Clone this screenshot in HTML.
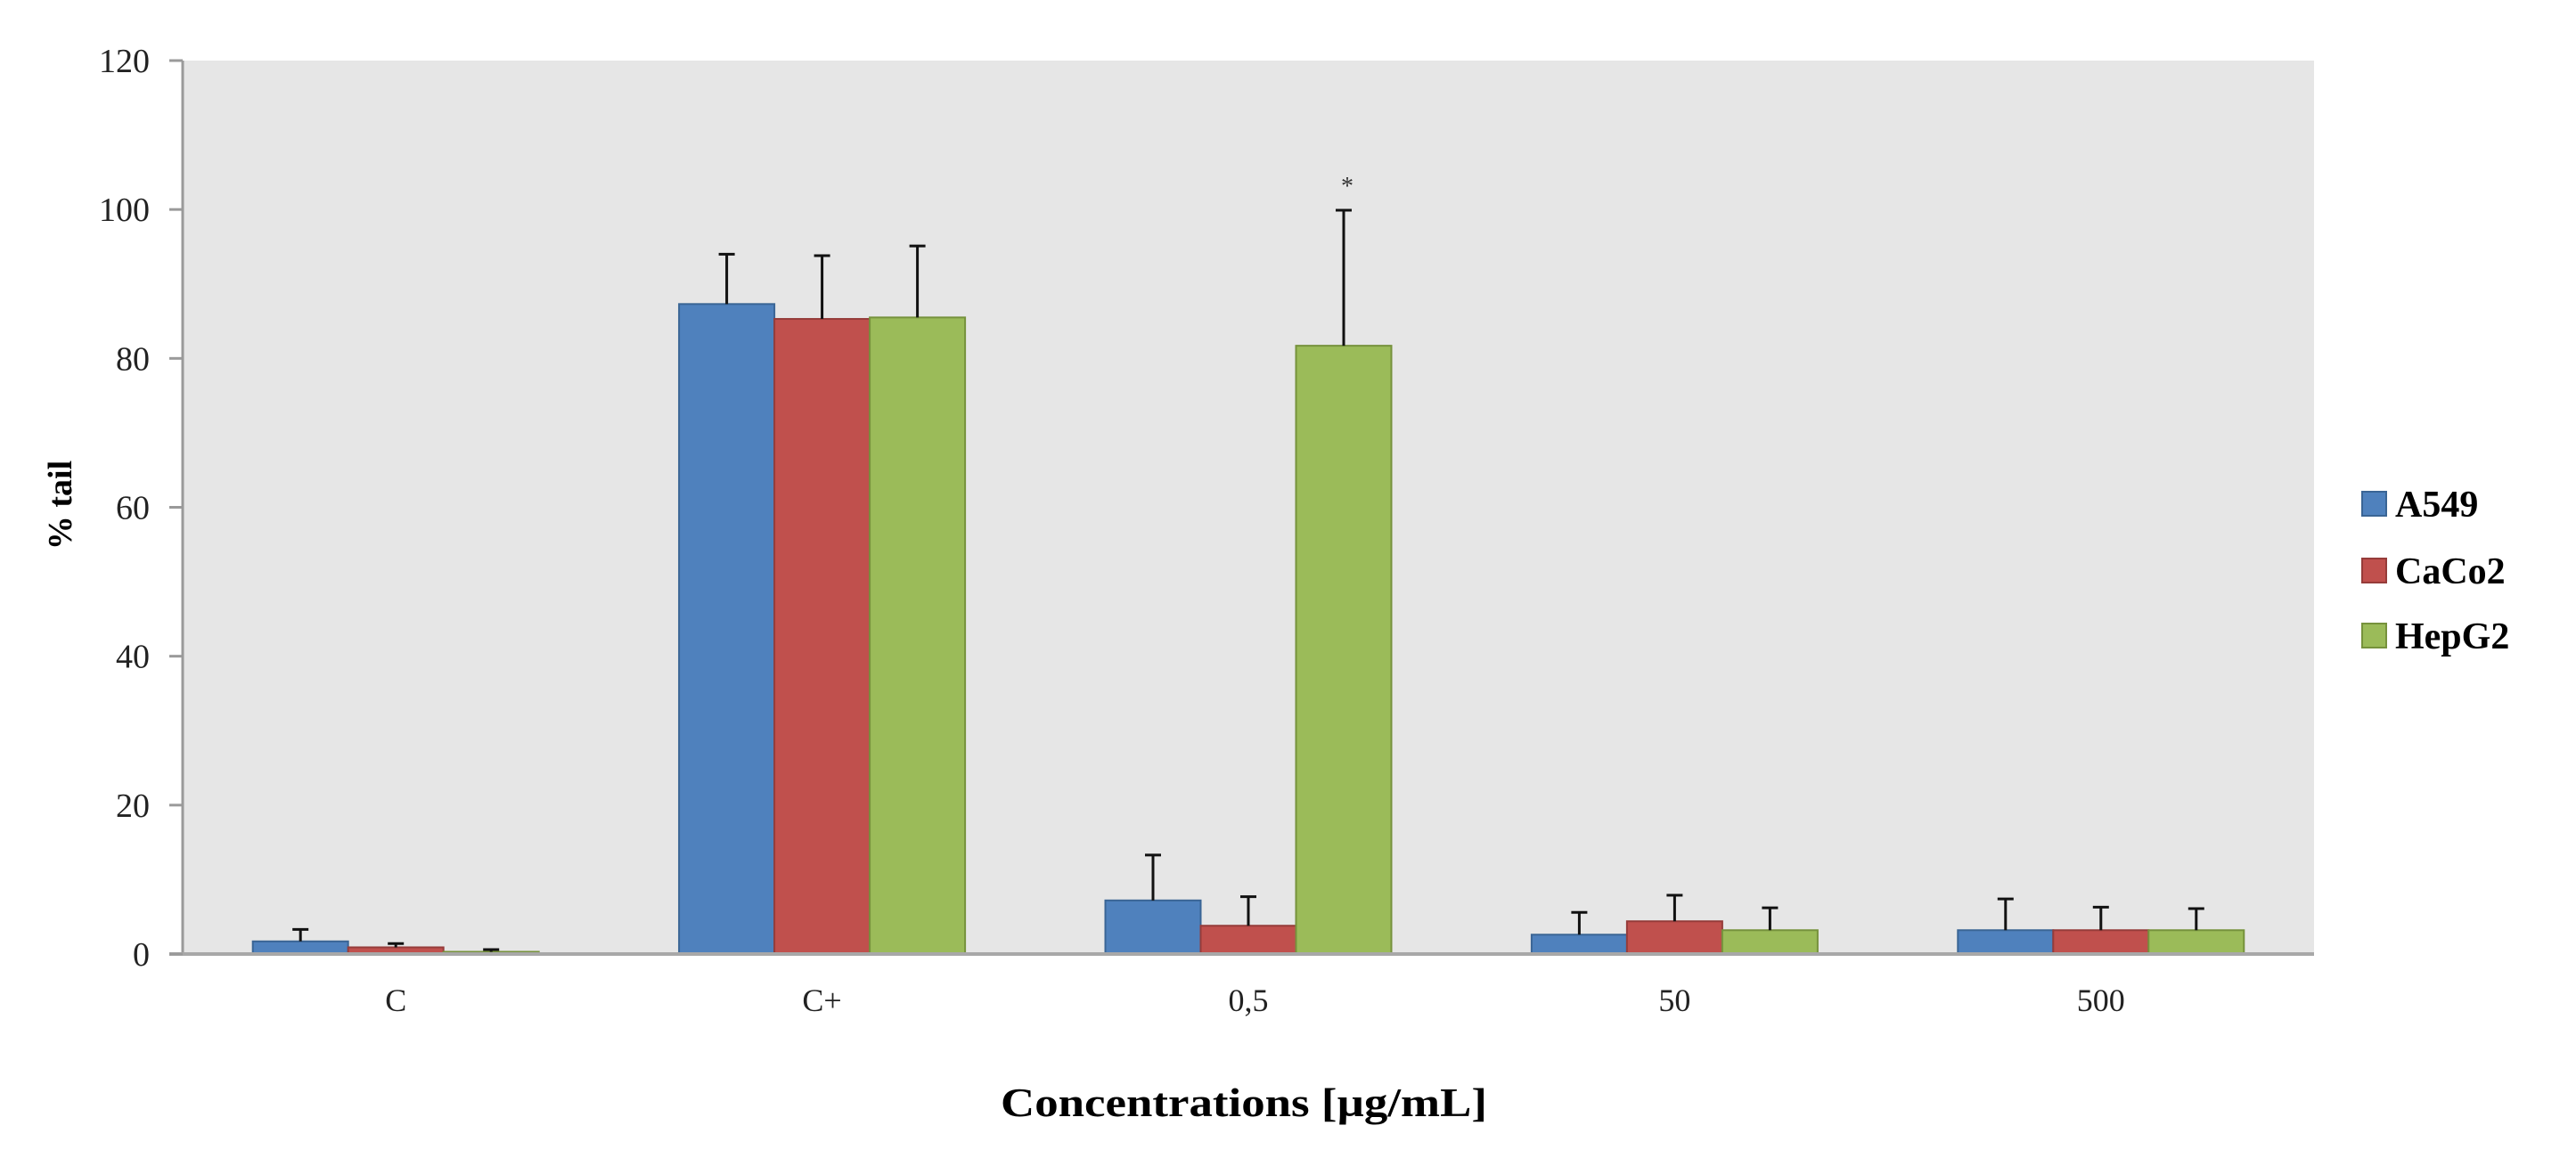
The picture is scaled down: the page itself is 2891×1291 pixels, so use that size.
<!DOCTYPE html>
<html><head><meta charset="utf-8"><style>
html,body{margin:0;padding:0;background:#fff}
svg{display:block}
text{font-family:"Liberation Serif",serif}
</style></head><body>
<svg id="chart" width="2891" height="1291" xmlns="http://www.w3.org/2000/svg">
<rect x="205" y="68" width="2392" height="1003" fill="#e6e6e6"/>
<g id="marks"></g>
<line x1="205" y1="68" x2="205" y2="1071" stroke="#9a9a9a" stroke-width="3"/>
<line x1="190" y1="1071" x2="2597" y2="1071" stroke="#a8a8a8" stroke-width="4"/>
<text transform="translate(80,567) rotate(-90)" text-anchor="middle" font-size="38" font-weight="bold">% tail</text>
<text x="1396" y="1253" text-anchor="middle" font-size="46" font-weight="bold" textLength="546" lengthAdjust="spacingAndGlyphs">Concentrations [µg/mL]</text>
<g>
<rect x="2651" y="552" width="27" height="27" fill="#4f81bd" stroke="#3a6595" stroke-width="2"/>
<text x="2688" y="580" font-size="42" font-weight="bold">A549</text>
<rect x="2651" y="627" width="27" height="27" fill="#c0504d" stroke="#963c3a" stroke-width="2"/>
<text x="2688" y="655" font-size="42" font-weight="bold">CaCo2</text>
<rect x="2651" y="700" width="27" height="27" fill="#9bbb59" stroke="#76923c" stroke-width="2"/>
<text x="2688" y="728" font-size="42" font-weight="bold">HepG2</text>
</g>
</svg>
<script>
const categories = ["C", "C+", "0,5", "50", "500"];
const seriesNames = ["A549", "CaCo2", "HepG2"];
const a549 = [1.7, 87.3, 7.2, 2.6, 3.2];
const caco2 = [0.9, 85.3, 3.8, 4.4, 3.2];
const hepg2 = [0.3, 85.5, 81.7, 3.2, 3.2];
const a549Err = [1.6, 6.7, 6.1, 3.0, 4.2];
const caco2Err = [0.5, 8.5, 3.9, 3.5, 3.1];
const hepg2Err = [0.3, 9.6, 18.2, 3.0, 2.9];
const yTicks = [0, 20, 40, 60, 80, 100, 120];
const significance = ["", "", "*", "", ""];

const NS = "http://www.w3.org/2000/svg";
const svg = document.getElementById("chart");
const marks = document.getElementById("marks");
const X0 = 205, X1 = 2597, Y0 = 1071, Y1 = 68, YMAX = 120;
const catW = (X1 - X0) / categories.length;
const barW = 107;
const yS = v => Y0 - v / YMAX * (Y0 - Y1);
const xC = i => X0 + catW * (i + 0.5);
const fills = ["#4f81bd", "#c0504d", "#9bbb59"];
const strokes = ["#3a6595", "#963c3a", "#76923c"];
const vals = [a549, caco2, hepg2];
const errs = [a549Err, caco2Err, hepg2Err];
function mk(tag, attrs, parent) {
  const e = document.createElementNS(NS, tag);
  for (const k in attrs) e.setAttribute(k, attrs[k]);
  (parent || svg).appendChild(e);
  return e;
}
yTicks.forEach(t => {
  const y = yS(t);
  const tk = mk("line", {x1: 190, x2: 205, y1: y, y2: y, stroke: "#9a9a9a", "stroke-width": 3});
  
  
  const lb = mk("text", {x: 168, y: y + 13, "text-anchor": "end", "font-size": 38, fill: "#222"});
  lb.textContent = t;
  
  
});
categories.forEach((c, i) => {
  const lb = mk("text", {x: xC(i), y: 1135, "text-anchor": "middle", "font-size": 36, fill: "#222"});
  lb.textContent = c;
  
  
  const gx = xC(i) - barW * 1.5;
  vals.forEach((arr, s) => {
    const x = gx + s * barW;
    const yt = yS(arr[i]);
    const r = mk("rect", {x: x, y: yt, width: barW, height: Y0 - yt, fill: fills[s], stroke: strokes[s], "stroke-width": 2}, marks);
    
    
    const ye = yS(arr[i] + errs[s][i]);
    const cx = x + barW / 2;
    const el = mk("path", {d: `M${cx},${yt} V${ye} M${cx - 9},${ye} H${cx + 9}`, stroke: "#111", "stroke-width": 3, fill: "none"}, marks);
    
    
    if (s === 2 && significance[i]) {
      const st = mk("text", {x: cx + 4, y: ye - 18, "text-anchor": "middle", "font-size": 28, fill: "#333"});
      st.textContent = significance[i];
      
      
    }
  });
});
</script>
</body></html>
